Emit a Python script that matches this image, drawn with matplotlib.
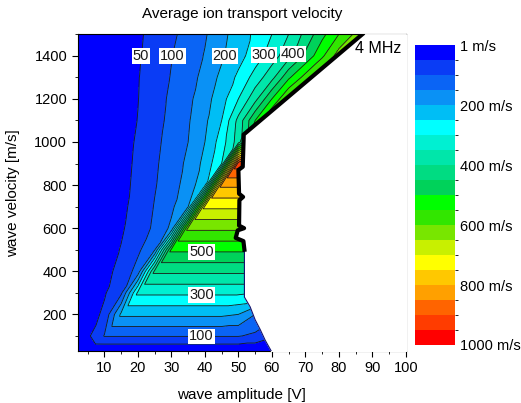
import matplotlib
matplotlib.use('Agg')
import matplotlib.pyplot as plt
from matplotlib.colors import ListedColormap, BoundaryNorm
from matplotlib.ticker import MultipleLocator
from matplotlib.tri import Triangulation
import numpy as np

plt.rcParams['font.family'] = ['Liberation Sans', 'DejaVu Sans']

# grid of the simulation: wave amplitude [V] and wave velocity [m/s]
amplitude = [2, 5, 10, 15, 20, 25, 30, 35, 40, 45, 50, 55, 60, 65, 70, 75, 80, 85, 90, 95, 100]
wave_velocity = [30, 100, 200, 300, 400, 500, 600, 700, 800, 900, 1000, 1100, 1200, 1300, 1400, 1500]

# average ion transport velocity [m/s], one row per wave velocity
transport = [
    [2, 4, 5, 5, 5, 5, 5, 5, 5, 5, 5, 5, 5, 5, 5, 5, 5, 5, 5, 5, 5],
    [15, 40, 103, 103, 103, 103, 103, 103, 103, 103, 103, 90, 60, 60, 60, 60, 60, 60, 60, 60, 60],
    [10, 25, 60, 210, 210, 210, 210, 210, 210, 210, 200, 150, 120, 120, 120, 120, 120, 120, 120, 120, 120],
    [10, 22, 45, 90, 310, 310, 310, 310, 310, 310, 310, 300, 300, 300, 300, 300, 300, 300, 300, 300, 300],
    [10, 20, 38, 62, 120, 410, 410, 410, 410, 410, 410, 410, 410, 410, 410, 410, 410, 410, 410, 410, 410],
    [8, 18, 33, 52, 90, 145, 510, 510, 510, 510, 510, 510, 510, 510, 510, 510, 510, 510, 510, 510, 510],
    [7, 15, 28, 45, 70, 110, 160, 610, 610, 610, 610, 610, 610, 610, 610, 610, 610, 610, 610, 610, 610],
    [6, 13, 26, 41, 64, 103, 140, 200, 710, 710, 710, 710, 710, 710, 710, 710, 710, 710, 710, 710, 710],
    [6, 12, 24, 39, 59, 96, 130, 170, 240, 810, 810, 810, 810, 810, 810, 810, 810, 810, 810, 810, 810],
    [5, 11, 22, 37, 57, 92, 125, 160, 215, 300, 930, 930, 930, 930, 930, 930, 930, 930, 930, 930, 930],
    [5, 10, 20, 34, 55, 87, 120, 150, 200, 275, 375, 600, 650, 650, 650, 650, 650, 650, 650, 650, 650],
    [5, 10, 19, 32, 51, 80, 115, 145, 190, 250, 365, 500, 620, 650, 650, 650, 650, 650, 650, 650, 650],
    [5, 10, 19, 31, 49, 77, 110, 138, 180, 230, 300, 383, 500, 610, 650, 650, 650, 650, 650, 650, 650],
    [5, 10, 20, 32, 48, 72, 103, 130, 165, 213, 260, 320, 383, 490, 570, 640, 660, 660, 660, 660, 660],
    [5, 10, 21, 33, 46, 67, 98, 125, 153, 192, 232, 274, 325, 382, 460, 540, 625, 660, 670, 670, 670],
    [5, 10, 20, 32, 44, 62, 88, 122, 145, 183, 228, 258, 300, 350, 415, 485, 550, 610, 650, 670, 680],
]

# highest wave amplitude that still gives ion transport, per wave velocity
limit_velocity = [30, 80, 130, 175, 235, 280, 500, 540, 555, 590, 600, 612, 730, 745, 760, 870, 885, 1035, 1500]
limit_amplitude = [59.8, 58, 56.5, 55, 53.5, 51.8, 51.8, 51.5, 49.2, 49.8, 51.7, 50.2, 50.3, 51.4, 50.2, 50, 51.3, 51.6, 87]

levels = list(range(0, 1001, 50))
band_colors = ['#0000ff', '#0a3cf5', '#0a64f5', '#0a91f5', '#00bef5', '#00ffff',
               '#00f0d2', '#00e6aa', '#00dc82', '#00d25a', '#00ff00', '#32e600',
               '#78e600', '#c8f000', '#ffff00', '#ffc800', '#ffa000', '#ff6400',
               '#ff3c00', '#ff0000']
cbar_ticks = [0, 200, 400, 600, 800, 1000]
cbar_labels = ['1 m/s', '200 m/s', '400 m/s', '600 m/s', '800 m/s', '1000 m/s']
label_levels = [50, 100, 200, 300, 400, 500]

fig = plt.figure(figsize=(5.21, 4.03), dpi=100)
ax = fig.add_axes([0.149, 0.129, 0.63, 0.786])
cax = fig.add_axes([0.797, 0.144, 0.077, 0.744])

# regular grid split into triangles along the lower-left/upper-right diagonal
X, Y = np.meshgrid(amplitude, wave_velocity)
Z = np.array(transport, dtype=float)
ny, nx = Z.shape
idx = np.arange(nx * ny).reshape(ny, nx)
bl, br = idx[:-1, :-1].ravel(), idx[:-1, 1:].ravel()
tl, tr = idx[1:, :-1].ravel(), idx[1:, 1:].ravel()
triangles = np.vstack([np.column_stack([bl, br, tr]), np.column_stack([bl, tr, tl])])
tri = Triangulation(X.ravel(), Y.ravel(), triangles)

cmap = ListedColormap(band_colors)
norm = BoundaryNorm(levels, cmap.N)

cf = ax.tricontourf(tri, Z.ravel(), levels=levels, cmap=cmap, norm=norm)
other_levels = [lv for lv in levels if lv not in label_levels]
ax.tricontour(tri, Z.ravel(), levels=other_levels, colors='#1a1a1a', linewidths=0.6)
cs = ax.tricontour(tri, Z.ravel(), levels=label_levels, colors='#1a1a1a', linewidths=0.6)

# contour labels placed near the same spots as in the original figure
spots = [(21, 1400), (30.5, 1400), (46.5, 1400), (58, 1400), (67.5, 1400),
         (39, 490), (39, 290), (39, 100)]
texts = ax.clabel(cs, manual=spots, inline=False, fontsize=10.5, fmt='%d')
for t in texts:
    t.set_rotation(0)
    t.set_bbox(dict(facecolor='white', edgecolor='none', pad=0.6))
    t.set_zorder(6)

# region without transport is left blank, its edge drawn as a line
lv = np.array(limit_velocity)
la = np.array(limit_amplitude)
ax.fill_betweenx(lv, la, 100, color='white', zorder=3)
ax.plot(la, lv, color='#101070', lw=0.8, zorder=4)
hi = lv >= 500
ax.plot(la[hi], lv[hi], color='black', lw=3, zorder=4)

ax.text(0.985, 0.955, '4 MHz', transform=ax.transAxes, ha='right', va='center', fontsize=11.5, zorder=7)

ax.set_xlim(2, 100)
ax.set_ylim(30, 1500)
ax.xaxis.set_major_locator(MultipleLocator(10))
ax.xaxis.set_minor_locator(MultipleLocator(5))
ax.yaxis.set_major_locator(MultipleLocator(200))
ax.yaxis.set_minor_locator(MultipleLocator(100))
ax.tick_params(which='major', direction='out', length=4, labelsize=10.5)
ax.tick_params(which='minor', direction='out', length=2.5)
ax.set_title('Average ion transport velocity', fontsize=11, pad=12)
ax.set_xlabel('wave amplitude [V]', fontsize=11, labelpad=9)
ax.set_ylabel('wave velocity [m/s]', fontsize=11, labelpad=10)

cb = fig.colorbar(cf, cax=cax, ticks=cbar_ticks)
cb.ax.set_yticklabels(cbar_labels)
cax.invert_yaxis()
cb.outline.set_visible(False)
cax.tick_params(length=0, labelsize=10.5, pad=3)

fig.savefig('out.png', dpi=100)
